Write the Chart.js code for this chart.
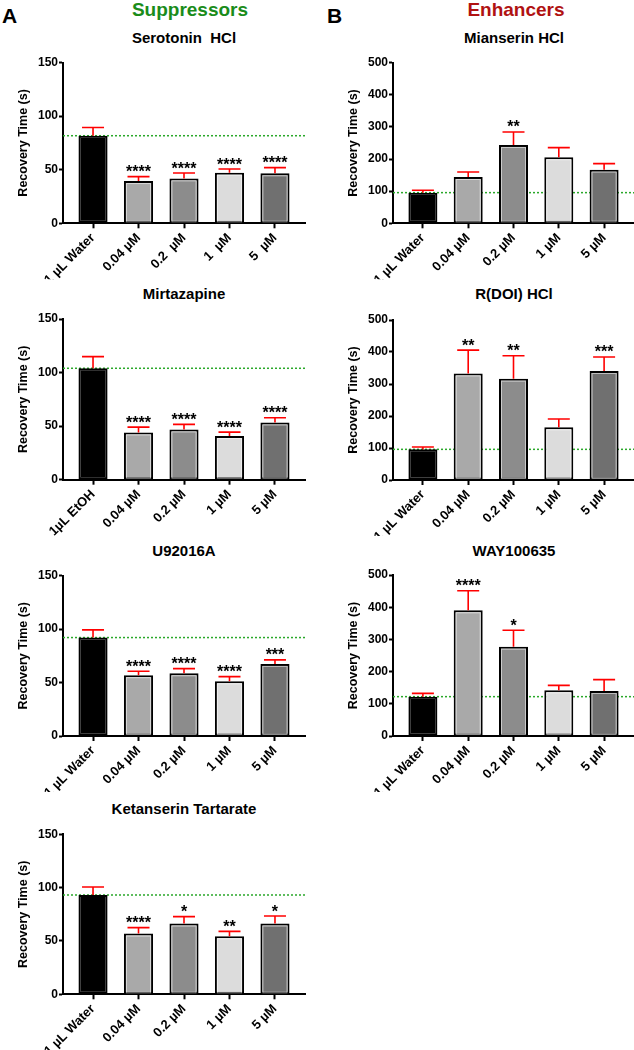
<!DOCTYPE html>
<html>
<head>
<meta charset="utf-8">
<script src="https://cdn.jsdelivr.net/npm/chart.js@4"></script>
<style>
  body { margin: 0; width: 634px; height: 1050px; position: relative; background: #fff; overflow: hidden;
         font-family: "Liberation Sans", Arial, sans-serif; }
  .t { position: absolute; font-weight: bold; line-height: 1; white-space: pre; color: #000; }
  .c { width: 300px; text-align: center; }
  canvas { position: absolute; }
</style>
</head>
<body>
<div class="t" style="left:2px;top:5px;font-size:21px">A</div>
<div class="t c" style="left:40px;top:-0.5px;font-size:19px;color:#1a8c1a">Suppressors</div>
<div class="t" style="left:327px;top:5px;font-size:21px">B</div>
<div class="t c" style="left:366px;top:-0.5px;font-size:19px;color:#b01212">Enhancers</div>

<div class="t c" style="left:34px;top:29.7px;font-size:15px">Serotonin  HCl</div>
<div class="t c" style="left:364px;top:29.7px;font-size:15px">Mianserin HCl</div>
<div class="t c" style="left:34px;top:285.5px;font-size:15px">Mirtazapine</div>
<div class="t c" style="left:364px;top:285.5px;font-size:15px">R(DOI) HCl</div>
<div class="t c" style="left:34px;top:543px;font-size:15px">U92016A</div>
<div class="t c" style="left:364px;top:543px;font-size:15px">WAY100635</div>
<div class="t c" style="left:34px;top:800.7px;font-size:15px">Ketanserin Tartarate</div>

<script>
// category labels
const doseLabels = ['1 µL Water', '0.04 µM', '0.2 µM', '1 µM', '5 µM'];
const serotoninLabels = ['1 µL Water', '0.04 µM', '0.2  µM', '1  µM', '5  µM'];
const etohLabels = ['1µL EtOH', '0.04 µM', '0.2 µM', '1 µM', '5 µM'];

// suppressors (mean, SEM, significance)
const serotoninMeans = [81.7, 39.4, 41.9, 47.2, 46.6];
const serotoninErr   = [7.7, 4.1, 5.0, 3.4, 5.3];
const serotoninStars = ['', '****', '****', '****', '****'];

const mirtazapineMeans = [104.0, 44.1, 46.9, 40.7, 53.4];
const mirtazapineErr   = [10.9, 5.0, 4.7, 3.7, 4.4];
const mirtazapineStars = ['', '****', '****', '****', '****'];

const u92016aMeans = [92.0, 56.8, 58.6, 51.1, 67.4];
const u92016aErr   = [7.2, 3.7, 4.4, 4.4, 3.7];
const u92016aStars = ['', '****', '****', '****', '***'];

const ketanserinMeans = [93.1, 56.9, 66.3, 54.4, 66.3];
const ketanserinErr   = [7.5, 5.6, 6.5, 4.6, 7.1];
const ketanserinStars = ['', '****', '*', '**', '*'];

// enhancers
const mianserinMeans = [95.4, 144.2, 243.8, 205.4, 167.0];
const mianserinErr   = [7.3, 15.6, 40.4, 30.1, 18.7];
const mianserinStars = ['', '', '**', '', ''];

const doiMeans = [95.8, 333.0, 316.7, 164.6, 340.6];
const doiErr   = [7.2, 73.0, 71.8, 26.0, 43.8];
const doiStars = ['', '**', '**', '', '***'];

const wayMeans = [122.2, 390.3, 277.4, 141.8, 139.8];
const wayErr   = [10.3, 61.0, 50.8, 15.5, 35.2];
const wayStars = ['', '****', '*', '', ''];

// y axis ticks
const suppTicks = [0, 50, 100, 150];
const enhTicks = [0, 100, 200, 300, 400, 500];

const barColors = ['#000000', '#a9a9a9', '#8c8c8c', '#dcdcdc', '#707070'];
Chart.defaults.font.family = '"Liberation Sans", Arial, sans-serif';

const LEFT = { left: 0, width: 315, plotRight: 305, axisW: 63, titlePad: 16.5 };
const RIGHT = { left: 315, width: 319, plotRight: 319, axisW: 78, titlePad: 31.5 };

function addPanel(col, top, bottom, labels, means, err, stars, ticks) {
  const xH = 56;
  const cTop = Math.floor(top) - 12;
  const c = document.createElement('canvas');
  c.width = col.width;
  c.height = Math.ceil(bottom + xH - cTop);
  c.style.left = col.left + 'px';
  c.style.top = cTop + 'px';
  document.body.appendChild(c);

  const extras = {
    id: 'extras',
    beforeDatasetsDraw(chart) {
      const { ctx, chartArea, scales: { y } } = chart;
      const yy = y.getPixelForValue(means[0]);
      ctx.save();
      ctx.strokeStyle = '#2aa82a';
      ctx.lineWidth = 1.5;
      ctx.setLineDash([2, 2]);
      ctx.beginPath();
      ctx.moveTo(chartArea.left, yy);
      ctx.lineTo(chartArea.right, yy);
      ctx.stroke();
      ctx.restore();
    },
    afterDatasetsDraw(chart) {
      const { ctx, scales: { y } } = chart;
      const bars = chart.getDatasetMeta(0).data;
      ctx.save();
      bars.forEach((bar, i) => {
        // faint inner line on the grey bars
        if (i > 0) {
          const w = bar.width;
          ctx.strokeStyle = 'rgba(255,255,255,0.55)';
          ctx.lineWidth = 1;
          ctx.strokeRect(bar.x - w / 2 + 2.5, bar.y + 2.5, w - 5, bar.base - bar.y - 3.5);
        }
        const t = y.getPixelForValue(means[i] + err[i]);
        ctx.strokeStyle = '#ff0000';
        ctx.lineWidth = 1.6;
        ctx.beginPath();
        ctx.moveTo(bar.x, bar.y);
        ctx.lineTo(bar.x, t);
        ctx.moveTo(bar.x - 11, t);
        ctx.lineTo(bar.x + 11, t);
        ctx.stroke();
        if (stars[i]) {
          ctx.fillStyle = '#000';
          ctx.font = 'bold 16px "Liberation Sans", Arial';
          ctx.textAlign = 'center';
          ctx.textBaseline = 'alphabetic';
          ctx.fillText(stars[i], bar.x, t + 0.5);
        }
      });
      ctx.restore();
    }
  };

  new Chart(c, {
    type: 'bar',
    data: {
      datasets: [{
        data: means.map((v, i) => ({ x: i, y: v })),
        backgroundColor: barColors,
        borderColor: '#000',
        borderWidth: 2,
        borderSkipped: false,
        categoryPercentage: 1,
        barPercentage: 0.64
      }]
    },
    options: {
      responsive: false,
      animation: false,
      layout: { padding: { top: top - cTop, bottom: c.height - (bottom - cTop) - xH, left: 0, right: col.width - col.plotRight } },
      plugins: { legend: { display: false }, tooltip: { enabled: false } },
      scales: {
        x: {
          type: 'linear', min: -0.66, max: 4.66, bounds: 'data', offset: false,
          afterBuildTicks: s => { s.ticks = labels.map((_, i) => ({ value: i })); },
          afterFit: s => { s.height = xH; s.paddingLeft = 0; s.paddingRight = 0; },
          grid: { display: true, offset: false, drawOnChartArea: false, tickLength: 5, tickWidth: 2, tickColor: '#000' },
          border: { display: true, color: '#000', width: 2 },
          ticks: {
            callback: v => labels[v], autoSkip: false, maxRotation: 45, minRotation: 45,
            color: '#000', padding: 2, font: { size: 13, weight: 'bold' }
          }
        },
        y: {
          min: ticks[0], max: ticks[ticks.length - 1],
          afterBuildTicks: s => { s.ticks = ticks.map(v => ({ value: v })); },
          afterFit: s => { s.width = col.axisW; },
          grid: { display: true, drawOnChartArea: false, tickLength: 4, tickWidth: 2, tickColor: '#000' },
          border: { display: true, color: '#000', width: 2 },
          ticks: { color: '#000', padding: 1, font: { size: 12, weight: 'bold' } },
          title: {
            display: true, text: 'Recovery Time (s)', color: '#000',
            font: { size: 12.5, weight: 'bold' }, padding: { top: col.titlePad, bottom: 0 }
          }
        }
      }
    },
    plugins: [extras]
  });
}

addPanel(LEFT, 62.5, 223.3, serotoninLabels, serotoninMeans, serotoninErr, serotoninStars, suppTicks);
addPanel(LEFT, 319, 479.7, etohLabels, mirtazapineMeans, mirtazapineErr, mirtazapineStars, suppTicks);
addPanel(LEFT, 575.5, 736, doseLabels, u92016aMeans, u92016aErr, u92016aStars, suppTicks);
addPanel(LEFT, 834.3, 994.3, doseLabels, ketanserinMeans, ketanserinErr, ketanserinStars, suppTicks);
addPanel(RIGHT, 62.6, 223.3, doseLabels, mianserinMeans, mianserinErr, mianserinStars, enhTicks);
addPanel(RIGHT, 320, 480, doseLabels, doiMeans, doiErr, doiStars, enhTicks);
addPanel(RIGHT, 575, 736, doseLabels, wayMeans, wayErr, wayStars, enhTicks);
</script>
</body>
</html>
